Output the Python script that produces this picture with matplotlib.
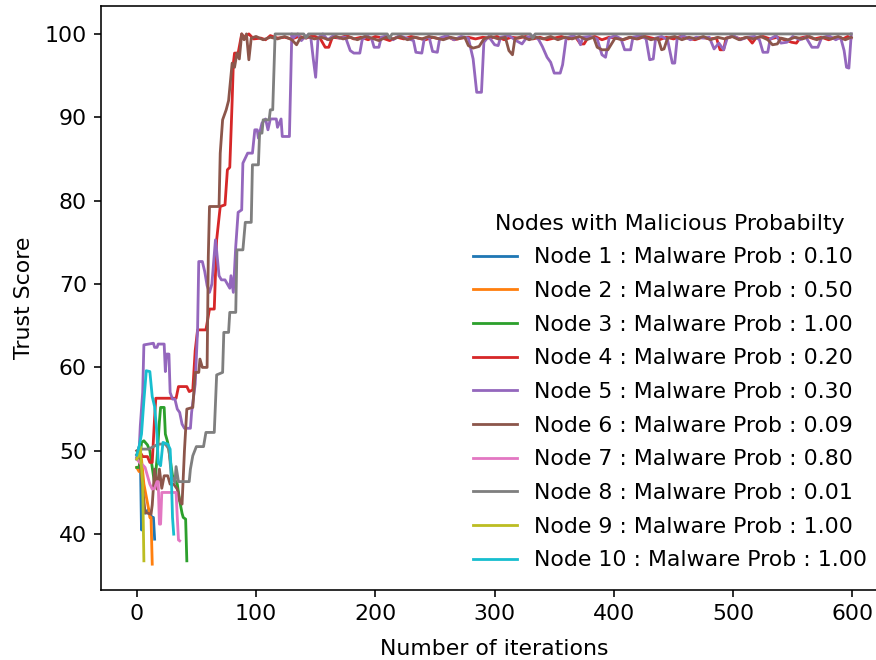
import matplotlib
matplotlib.use("Agg")
import matplotlib.pyplot as plt

plt.rcParams['font.size'] = 11

# 每个节点的信任分数 (迭代次数, 分数) 关键点
node1_it = [0, 2, 3, 4, 5, 7, 10, 12, 13, 14, 15]
node1_sc = [49.0, 50.5, 50.0, 40.5, 43.0, 42.5, 43.0, 42.2, 42.0, 42.0, 39.4]

node2_it = [0, 2, 4, 6, 8, 10, 11, 12, 13]
node2_sc = [48.0, 47.5, 49.0, 46.0, 44.5, 43.0, 42.0, 42.0, 36.4]

node3_it = [0, 2, 4, 6, 9, 11, 13, 15, 17, 19, 20, 23, 24, 26, 28, 30,
            32, 34, 36, 38, 39, 41, 42]
node3_sc = [48.0, 48.0, 51.0, 51.2, 50.7, 50.0, 48.0, 46.0, 49.0, 53.5, 55.2,
            55.2, 52.0, 51.0, 49.0, 47.0, 46.5, 46.0, 44.0, 42.5, 42.0, 41.8, 36.8]

node4_it = [0, 3, 5, 9, 11, 13, 15, 16, 33, 35, 42, 44, 47, 49, 51, 58, 61, 65,
            67, 70, 74, 76, 78, 80, 81, 82, 85, 88,
            90, 94, 98, 104, 108, 112, 118, 124, 130, 136, 142, 148, 154, 158,
            161, 164, 170, 176, 182, 188, 194, 200, 206, 212, 218, 224, 230,
            236, 242, 248, 254, 260, 266, 272, 278, 284, 290, 296, 302, 308,
            314, 320, 326, 332, 338, 344, 350, 356, 362, 368, 372, 375, 378,
            384, 390, 396, 402, 408, 414, 420, 426, 432, 438, 444, 450, 456,
            462, 468, 474, 480, 486, 489, 492, 494, 500, 506, 512, 516, 519,
            525, 531, 537, 543, 549, 553, 556, 562, 568, 574, 580, 586, 592,
            596, 599]
node4_sc = [49.5, 49.8, 49.3, 49.3, 48.6, 48.6, 54.0, 56.3, 56.3, 57.7, 57.7,
            57.1, 57.3, 62.0, 64.5, 64.5, 67.0, 67.0, 75.3, 79.3, 79.5, 83.7,
            84.0, 92.0, 96.5, 97.7, 97.7, 100.0,
            99.6, 100.0, 99.4, 99.5, 99.3, 99.8, 99.5, 99.6, 99.4, 99.7, 99.5,
            99.8, 99.4, 98.4, 98.4, 99.6, 99.5, 99.8, 99.4, 99.6, 99.3, 99.7,
            99.5, 99.2, 99.6, 99.4, 99.7, 99.5, 99.3, 99.6, 99.4, 99.7, 99.3,
            99.5, 99.6, 99.4, 99.6, 99.5, 99.7, 99.3, 99.6, 99.5, 99.7, 99.4,
            99.6, 99.3, 99.5, 99.7, 99.4, 99.6, 98.8, 98.8, 99.5, 99.7, 99.3,
            99.6, 99.5, 99.3, 99.6, 99.4, 99.7, 99.5, 99.3, 99.6, 99.4, 99.7,
            99.5, 99.3, 99.6, 99.4, 99.5, 98.1, 98.1, 99.5, 99.7, 99.4, 99.6,
            98.9, 99.5, 99.7, 99.4, 99.6, 99.3, 99.0, 98.9, 99.5, 99.7, 99.4,
            99.6, 99.3, 99.6, 99.4, 99.7, 99.5]

node5_it = [0, 2, 3, 4, 5, 6, 14, 15, 17, 18, 23, 24, 25, 27, 28, 30, 32, 34,
            36, 38, 40, 45, 46, 49, 51, 52, 55, 57, 59, 61, 63, 66, 67, 69, 71,
            74, 76, 78, 79, 81, 83, 85, 88, 89, 93, 97, 99, 101, 102, 105, 108,
            110, 112, 117, 118, 121, 122, 128, 130,
            131, 135, 138, 142, 146, 148, 150, 152, 156, 160, 165, 170, 175,
            179, 182, 187, 189, 193, 197, 199, 203, 205, 210, 215, 220, 226,
            232, 234, 239, 241, 245, 248, 252, 254, 260, 266, 272, 278, 282,
            285, 289, 291, 295, 300, 303, 305, 312, 318, 323, 327, 333, 337,
            340, 344, 347, 350, 355, 357, 360, 366, 370, 372, 374, 380, 386,
            390, 393, 396, 401, 406, 409, 414, 416, 422, 427, 430, 433, 435,
            440, 445, 449, 451, 453, 458, 464, 469, 475, 480, 484, 488, 492,
            495, 500, 506, 512, 518, 522, 525, 529, 531, 536, 540, 545, 550,
            556, 561, 566, 571, 574, 580, 586, 590, 593, 595, 597, 598, 599]
node5_sc = [49.2, 50.0, 53.0, 55.0, 57.0, 62.7, 62.9, 62.4, 62.4, 62.8, 62.8,
            59.5, 61.6, 61.6, 57.0, 56.2, 56.2, 55.0, 54.6, 53.2, 52.7, 52.7,
            54.6, 58.0, 64.5, 72.7, 72.7, 71.5, 69.8, 69.0, 70.0, 75.3, 74.0,
            71.0, 70.5, 70.5, 70.0, 69.5, 71.0, 69.0, 74.5, 78.6, 78.9, 84.5,
            85.7, 85.7, 88.5, 88.5, 87.5, 89.3, 89.8, 88.5, 89.8, 89.8, 88.8,
            89.8, 87.7, 87.7, 100.0,
            99.5, 100.0, 99.2, 99.8, 99.5, 97.0, 94.8, 99.5, 100.0, 99.3, 99.8,
            99.5, 99.6, 98.0, 97.7, 97.7, 99.3, 99.8, 99.4, 98.4, 98.4, 99.6,
            99.8, 99.3, 99.8, 99.5, 99.2, 97.8, 97.7, 99.4, 99.7, 97.9, 97.8,
            99.5, 99.8, 99.3, 99.7, 99.5, 97.0, 93.0, 93.0, 99.0, 99.7, 98.7,
            98.6, 99.6, 99.8, 99.2, 98.8, 99.6, 99.8, 99.3, 98.5, 97.2, 96.6,
            95.3, 95.3, 96.3, 99.5, 99.8, 99.4, 98.7, 99.6, 99.7, 99.4, 97.5,
            97.2, 99.5, 99.8, 99.4, 98.1, 98.1, 99.6, 99.8, 99.4, 96.9, 97.0,
            99.5, 99.7, 99.3, 96.5, 96.5, 99.4, 99.8, 99.3, 99.6, 99.5, 99.6,
            98.2, 98.9, 98.1, 99.5, 99.8, 99.3, 99.6, 99.7, 99.3, 97.8, 97.8,
            99.4, 99.8, 98.9, 99.0, 99.7, 99.3, 99.6, 98.4, 98.4, 99.5, 99.8,
            99.3, 99.6, 98.0, 96.0, 95.9, 98.0, 100.0]

node6_it = [0, 2, 4, 5, 7, 12, 13, 15, 17, 19, 21, 23, 26, 28, 31, 34, 36, 38,
            40, 42, 47, 49, 52, 53, 55, 59, 60, 61, 69, 70, 72, 75, 77, 80, 82,
            84, 86, 88,
            90, 92, 94, 96, 100, 106, 112, 118, 124, 130, 134, 137, 143, 149,
            155, 161, 167, 173, 179, 185, 191, 197, 203, 209, 215, 221, 227,
            233, 239, 245, 251, 257, 263, 269, 275, 278, 282, 287, 291, 297,
            303, 309, 312, 315, 317, 323, 329, 335, 341, 347, 353, 359, 365,
            371, 377, 383, 386, 390, 395, 398, 401, 407, 413, 419, 425, 431,
            437, 440, 442, 445, 451, 457, 463, 469, 475, 481, 487, 493, 499,
            505, 511, 517, 523, 529, 533, 537, 540, 546, 552, 558, 564, 570,
            576, 582, 588, 594, 599]
node6_sc = [50.0, 49.5, 47.0, 45.4, 42.6, 42.4, 43.5, 47.8, 45.4, 47.8, 45.5,
            47.0, 47.0, 46.0, 46.0, 45.4, 44.0, 43.6, 50.0, 55.0, 55.2, 59.4,
            59.4, 61.0, 60.0, 60.0, 73.3, 79.3, 79.3, 85.7, 89.7, 90.9, 92.0,
            96.5, 96.0, 97.7, 97.0, 100.0,
            99.3, 100.0, 96.9, 99.5, 99.7, 99.3, 99.6, 99.4, 99.7, 99.3, 98.7,
            99.5, 99.7, 99.4, 99.6, 99.3, 99.7, 99.4, 99.6, 99.3, 99.7, 99.5,
            99.2, 99.6, 99.4, 99.7, 99.3, 99.6, 99.4, 99.7, 99.5, 99.3, 99.6,
            99.4, 99.6, 98.6, 98.3, 98.5, 99.4, 99.7, 99.4, 99.6, 98.0, 97.5,
            99.4, 99.7, 99.3, 99.6, 99.4, 99.7, 99.3, 99.6, 99.4, 99.7, 99.3,
            99.6, 98.4, 98.1, 98.1, 98.8, 99.5, 99.3, 99.6, 99.4, 99.7, 99.3,
            99.5, 98.1, 98.2, 99.5, 99.7, 99.3, 99.6, 99.4, 99.7, 99.3, 99.6,
            99.4, 99.7, 99.3, 99.6, 99.4, 99.7, 99.3, 98.7, 98.8, 99.5, 99.3,
            99.6, 99.4, 99.7, 99.3, 99.6, 99.4, 99.7, 99.3, 99.6]

node7_it = [0, 3, 5, 7, 9, 11, 13, 15, 17, 18, 19, 20, 21, 33, 34, 35, 36]
node7_sc = [49.0, 48.5, 48.3, 48.0, 47.0, 46.0, 45.4, 45.5, 46.3, 46.3, 41.2,
            41.2, 45.0, 45.0, 42.0, 39.3, 39.2]

node8_it = [0, 3, 10, 14, 18, 24, 27, 29, 32, 33, 35, 44, 45, 47, 50, 56, 58,
            65, 67, 72, 73, 77, 78, 83, 84, 89, 91, 96, 97, 102, 103, 105, 106,
            111, 112, 114, 116, 140, 142, 144, 210, 212, 214, 330, 332, 334, 599]
node8_sc = [49.5, 50.2, 50.2, 50.5, 50.8, 50.8, 50.2, 47.0, 46.2, 48.1, 46.3,
            46.3, 47.8, 49.4, 50.5, 50.5, 52.2, 52.2, 59.1, 59.4, 64.2, 64.2,
            66.6, 66.6, 74.1, 74.1, 77.4, 77.4, 84.3, 84.3, 88.1, 88.1, 89.7,
            89.7, 90.9, 90.9, 100.0, 100.0, 99.5, 100.0, 100.0, 99.5, 100.0,
            100.0, 99.5, 100.0, 100.0]

node9_it = [0, 2, 3, 4, 5, 6]
node9_sc = [49.0, 49.5, 50.5, 48.0, 46.0, 36.8]

node10_it = [0, 2, 4, 6, 8, 11, 13, 15, 17, 18, 20, 22, 26, 28, 29, 30, 31]
node10_sc = [49.5, 50.5, 52.0, 56.0, 59.6, 59.5, 56.5, 55.3, 52.0, 48.6, 48.2,
             51.0, 50.8, 50.2, 47.0, 42.0, 40.0]

malware_prob = [0.10, 0.50, 1.00, 0.20, 0.30, 0.09, 0.80, 0.01, 1.00, 1.00]

all_it = [node1_it, node2_it, node3_it, node4_it, node5_it,
          node6_it, node7_it, node8_it, node9_it, node10_it]
all_sc = [node1_sc, node2_sc, node3_sc, node4_sc, node5_sc,
          node6_sc, node7_sc, node8_sc, node9_sc, node10_sc]

dpi = 144
fig = plt.figure(figsize=(876 / dpi, 660 / dpi), dpi=dpi)
# 右边框在图片外（原图被裁掉）
ax = fig.add_axes([101 / 876, 70 / 660, 786 / 876, 584 / 660])

for i in range(len(all_it)):
    ax.plot(all_it[i], all_sc[i], linewidth=1.4,
            label='Node %d : Malware Prob : %.2f' % (i + 1, malware_prob[i]))

ax.set_xlim(-29.95, 628.95)
ax.set_ylim(33.3, 103.35)
ax.set_xlabel("Number of iterations", labelpad=7.5)
ax.set_ylabel("Trust Score", labelpad=5.5)
ax.legend(title="Nodes with Malicious Probabilty", loc='lower right',
          frameon=False, title_fontsize=11, labelspacing=0.62)

fig.savefig("out.png", dpi=dpi)
